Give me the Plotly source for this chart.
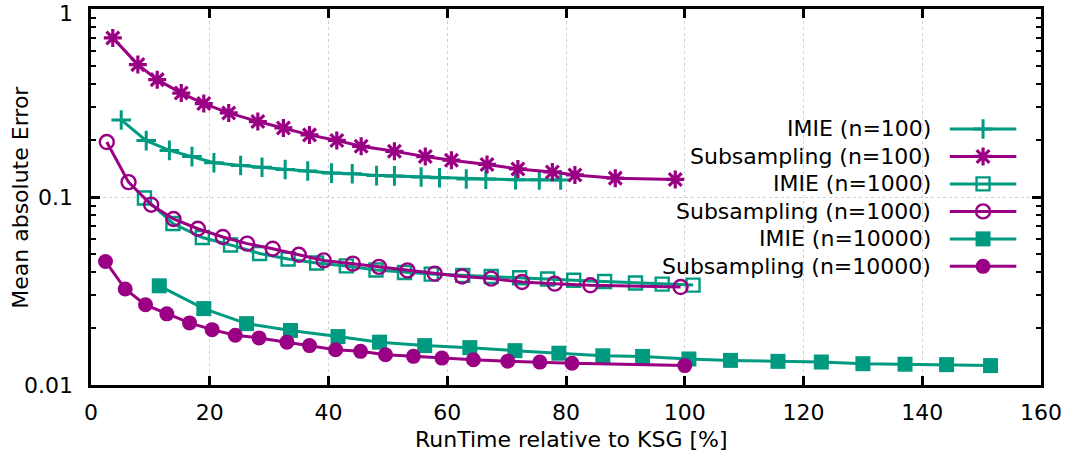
import plotly.graph_objects as go

# ---------------- data ----------------
imie100_x = [5.09, 9.30, 13.2, 17.0, 20.7, 25.2, 28.8, 32.7, 36.5, 40.5,
             44.0, 48.1, 51.1, 55.6, 58.7, 63.2, 66.5, 71.5, 75.5, 79.1]
imie100_y = [0.257, 0.1995, 0.177, 0.164, 0.152, 0.147, 0.144, 0.140, 0.1375, 0.134,
             0.133, 0.130, 0.1295, 0.1277, 0.1266, 0.1247, 0.1245, 0.1236, 0.1234, 0.1231]

sub100_x = [3.67, 7.89, 11.15, 15.2, 19.0, 23.2, 28.1, 32.4, 36.8, 41.4,
            45.5, 51.1, 56.3, 60.7, 66.7, 71.9, 77.7, 81.5, 88.3, 98.4]
sub100_y = [0.702, 0.506, 0.421, 0.357, 0.314, 0.280, 0.252, 0.233, 0.214, 0.200,
            0.186, 0.175, 0.164, 0.157, 0.149, 0.141, 0.136, 0.131, 0.126, 0.124]

imie1000_x = [9.0, 13.8, 18.75, 23.5, 28.4, 33.2, 38.0, 43.0, 48.0, 52.8,
              57.3, 62.6, 67.4, 72.2, 76.9, 81.3, 86.5, 91.7, 96.2, 101.4]
imie1000_y = [0.0988, 0.0723, 0.0609, 0.0556, 0.0501, 0.0468, 0.0446, 0.0430, 0.0409, 0.0397,
              0.0389, 0.0383, 0.0378, 0.0372, 0.0366, 0.0361, 0.0355, 0.0349, 0.0344, 0.0340]

sub1000_x = [2.66, 6.32, 10.14, 13.9, 18.0, 22.2, 26.3, 30.6, 35.0, 39.2,
             44.1, 48.5, 53.3, 57.9, 62.5, 67.4, 72.6, 78.1, 84.1, 99.3]
sub1000_y = [0.196, 0.120, 0.0910, 0.0764, 0.0678, 0.0613, 0.0565, 0.0531, 0.0493, 0.0460,
             0.0442, 0.0425, 0.0407, 0.0391, 0.0378, 0.0368, 0.0353, 0.0346, 0.0339, 0.0332]

imie10000_x = [11.5, 19.0, 26.2, 33.6, 41.6, 48.6, 56.2, 63.8, 71.4, 78.8,
               86.2, 92.9, 100.7, 107.7, 115.7, 123.0, 130.0, 137.1, 144.1, 151.5]
imie10000_y = [0.0337, 0.0255, 0.0212, 0.0195, 0.0181, 0.0169, 0.0162, 0.0158, 0.01523, 0.01476,
               0.0143, 0.01419, 0.01375, 0.01352, 0.01336, 0.01325, 0.01298, 0.0129, 0.01283, 0.01268]

sub10000_x = [2.44, 5.76, 9.18, 12.77, 16.6, 20.4, 24.3, 28.3, 33.0, 36.8,
              41.2, 45.4, 49.6, 54.3, 59.1, 64.4, 70.2, 75.6, 81.0, 100.0]
sub10000_y = [0.0454, 0.0324, 0.0267, 0.0239, 0.0214, 0.0197, 0.0184, 0.0178, 0.0169, 0.0162,
              0.0154, 0.0151, 0.01449, 0.0142, 0.0139, 0.01363, 0.01339, 0.01324, 0.01306, 0.01268]

series_names = ["IMIE (n=100)", "Subsampling (n=100)", "IMIE (n=1000)",
                "Subsampling (n=1000)", "IMIE (n=10000)", "Subsampling (n=10000)"]

x_ticks = [0, 20, 40, 60, 80, 100, 120, 140, 160]
y_ticks = [0.01, 0.1, 1]
y_tick_text = ["0.01", "0.1", "1"]
x_title = "RunTime relative to KSG [%]"
y_title = "Mean absolute Error"

# ---------------- styles ----------------
TEAL = "#009a80"
MAG = "#990083"
FONT = "DejaVu Sans"
FS = 22

styles = [
    dict(color=TEAL, symbol="cross-thin-open", size=14, mlw=3),
    dict(color=MAG, symbol="asterisk-open", size=15, mlw=3.2),
    dict(color=TEAL, symbol="square-open", size=13, mlw=2.4),
    dict(color=MAG, symbol="circle-open", size=14, mlw=2.4),
    dict(color=TEAL, symbol="square", size=15, mlw=0),
    dict(color=MAG, symbol="circle", size=15, mlw=0),
]
data = [(imie100_x, imie100_y), (sub100_x, sub100_y), (imie1000_x, imie1000_y),
        (sub1000_x, sub1000_y), (imie10000_x, imie10000_y), (sub10000_x, sub10000_y)]

fig = go.Figure()
for (xs, ys), st, name in zip(data, styles, series_names):
    fig.add_trace(go.Scatter(
        x=xs, y=ys, mode="lines+markers", name=name, showlegend=False,
        line=dict(color=st["color"], width=3),
        marker=dict(symbol=st["symbol"], size=st["size"], color=st["color"],
                    line=dict(color=st["color"], width=st["mlw"])),
    ))

# ---------------- legend (text left, sample right, as in gnuplot) ----------------
leg_top = 0.681
leg_step = 0.0731
lx0, lx1, lxm, ltxt = 0.904, 0.974, 0.939, 0.8865
for i, (st, name) in enumerate(zip(styles, series_names)):
    yy = leg_top - i * leg_step
    fig.add_trace(go.Scatter(
        x=[lx0, lx1], y=[yy, yy], mode="lines", xaxis="x2", yaxis="y2",
        showlegend=False, hoverinfo="skip",
        line=dict(color=st["color"], width=3)))
    fig.add_trace(go.Scatter(
        x=[lxm], y=[yy], mode="markers", xaxis="x2", yaxis="y2",
        showlegend=False, hoverinfo="skip",
        marker=dict(symbol=st["symbol"], size=st["size"], color=st["color"],
                    line=dict(color=st["color"], width=st["mlw"]))))
    fig.add_annotation(x=ltxt, y=yy, xref="x2", yref="y2", text=name,
                       showarrow=False, xanchor="right", yanchor="middle",
                       font=dict(family=FONT, size=FS, color="black"))

# axis titles
fig.add_annotation(x=0.506, y=-0.145, xref="paper", yref="paper", text=x_title,
                   showarrow=False, xanchor="center", yanchor="middle",
                   font=dict(family=FONT, size=FS, color="black"))
fig.add_annotation(x=-0.075, y=0.5, xref="paper", yref="paper", text=y_title,
                   textangle=-90, showarrow=False, xanchor="center", yanchor="middle",
                   font=dict(family=FONT, size=FS, color="black"))

# y tick labels as annotations (keeps the top "1" fully inside the page)
import math
for v, t in zip(y_ticks, y_tick_text):
    top = v == max(y_ticks)
    fig.add_annotation(x=0, y=math.log10(v), xref="paper", yref="y", text=t,
                       showarrow=False, xanchor="right",
                       yanchor="top" if top else "middle",
                       yshift=10 if top else 0, xshift=-16,
                       font=dict(family=FONT, size=FS, color="black"))

axis_common = dict(showline=True, linecolor="black", linewidth=2.5, mirror="ticks",
                   ticks="inside", tickcolor="black", tickwidth=2.5, ticklen=9,
                   showgrid=True, gridcolor="#d2d2d2", griddash="dot", gridwidth=1,
                   zeroline=False, automargin=False,
                   tickfont=dict(family=FONT, size=FS, color="black"))

fig.update_layout(
    width=1085, height=460,
    margin=dict(l=91, r=44, t=9, b=75),
    paper_bgcolor="white", plot_bgcolor="white",
    font=dict(family=FONT, size=FS, color="black"),
    showlegend=False,
    xaxis=dict(range=[0, 160], tickvals=x_ticks, ticktext=[str(v) for v in x_ticks],
               ticklabelstandoff=6, **axis_common),
    yaxis=dict(type="log", range=[-2, 0], tickvals=y_ticks, showticklabels=False,
               minor=dict(ticks="inside", ticklen=5, tickwidth=2, tickcolor="black",
                          dtick="D1", showgrid=False),
               **axis_common),
    xaxis2=dict(domain=[0, 1], range=[0, 1], overlaying="x", visible=False,
                fixedrange=True),
    yaxis2=dict(domain=[0, 1], range=[0, 1], overlaying="y", visible=False,
                fixedrange=True, anchor="x2"),
)

fig.write_html("out.html")
